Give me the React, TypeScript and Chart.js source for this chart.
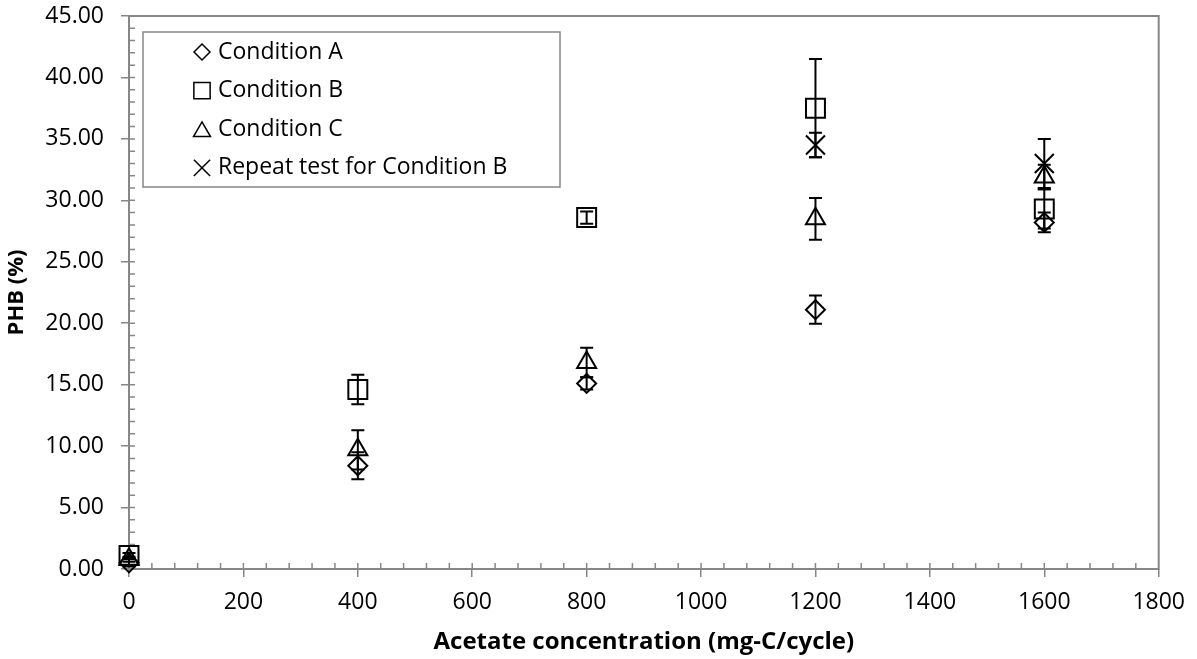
import React, { useEffect, useRef } from 'react';
import { Chart, registerables } from 'chart.js';
import { drawPoint } from 'chart.js/helpers';

Chart.register(...registerables);

// ---- Data ----
const xValues = [0, 400, 800, 1200, 1600];
const conditionA = [0.5, 8.4, 15.1, 21.1, 28.2];
const conditionAErr = [0.3, 1.1, 0.5, 1.15, 0.8];
const conditionB = [1.1, 14.6, 28.6, 37.5, 29.3];
const conditionBErr = [0.2, 1.2, 0.5, 4.0, 1.6];
const conditionC = [0.8, 9.7, 16.8, 28.5, 31.9];
const conditionCErr = [0.2, 1.6, 1.2, 1.7, 1.0];
const repeatX = [1200, 1600];
const repeatB = [34.5, 33.0];
const repeatBErr = [1.0, 2.0];
const seriesLabels = ['Condition A', 'Condition B', 'Condition C', 'Repeat test for Condition B'];

const xAxis = { min: 0, max: 1800, step: 200, minorStep: 40 };
const yAxis = { min: 0, max: 45, step: 5, minorStep: 1 };
const xTitle = 'Acetate concentration (mg-C/cycle)';
const yTitle = 'PHB (%)';

const AXIS_COLOR = '#878787';
const FONT = "'Open Sans', sans-serif";

const toPoints = (xs: number[], ys: number[]) => xs.map((x, i) => ({ x, y: ys[i] }));

const frameAndTicks = {
  id: 'frameAndTicks',
  beforeDatasetsDraw(chart: any) {
    const { ctx, chartArea: a, scales } = chart;
    const xs = scales.x;
    const ys = scales.y;
    ctx.save();
    ctx.strokeStyle = AXIS_COLOR;
    ctx.lineWidth = 1.5;
    ctx.beginPath();
    for (let v = xAxis.min + xAxis.minorStep; v < xAxis.max; v += xAxis.minorStep) {
      const px = xs.getPixelForValue(v);
      ctx.moveTo(px, a.bottom);
      ctx.lineTo(px, a.bottom - 6);
    }
    for (let v = yAxis.min + yAxis.minorStep; v < yAxis.max; v += yAxis.minorStep) {
      const py = ys.getPixelForValue(v);
      ctx.moveTo(a.left, py);
      ctx.lineTo(a.left + 6, py);
    }
    ctx.stroke();
    ctx.lineWidth = 2;
    ctx.strokeRect(a.left, a.top, a.right - a.left, a.bottom - a.top);
    ctx.restore();
  },
};

const errorBars = {
  id: 'errorBars',
  afterDatasetsDraw(chart: any) {
    const { ctx, scales } = chart;
    const xs = scales.x;
    const ys = scales.y;
    ctx.save();
    ctx.strokeStyle = '#000';
    ctx.lineWidth = 2;
    chart.data.datasets.forEach((ds: any) => {
      const errs: number[] = ds.errors;
      if (!errs) return;
      ds.data.forEach((pt: any, j: number) => {
        const px = xs.getPixelForValue(pt.x);
        const top = ys.getPixelForValue(pt.y + errs[j]);
        const bot = ys.getPixelForValue(pt.y - errs[j]);
        const cap = 6.5;
        ctx.beginPath();
        ctx.moveTo(px, top);
        ctx.lineTo(px, bot);
        ctx.moveTo(px - cap, top);
        ctx.lineTo(px + cap, top);
        ctx.moveTo(px - cap, bot);
        ctx.lineTo(px + cap, bot);
        ctx.stroke();
      });
    });
    ctx.restore();
  },
};

const legendBox = {
  id: 'legendBox',
  afterDraw(chart: any) {
    const { ctx } = chart;
    const box = { left: 143, top: 32, right: 560, bottom: 187 };
    ctx.save();
    ctx.fillStyle = '#fff';
    ctx.fillRect(box.left, box.top, box.right - box.left, box.bottom - box.top);
    ctx.strokeStyle = AXIS_COLOR;
    ctx.lineWidth = 1.5;
    ctx.strokeRect(box.left, box.top, box.right - box.left, box.bottom - box.top);
    const radii: Record<string, number> = { rectRot: 8, rect: 11.5, triangle: 9.8, crossRot: 11.5 };
    chart.data.datasets.forEach((ds: any, i: number) => {
      const cy = 52 + i * 38.6;
      ctx.fillStyle = 'rgba(0,0,0,0)';
      ctx.strokeStyle = '#000';
      ctx.lineWidth = 1.5;
      const style = ds.pointStyle;
      const r = radii[style] || 8;
      const yOff = style === 'triangle' ? 2.5 : 0;
      drawPoint(ctx, { pointStyle: style, rotation: 0, radius: r, borderWidth: 1.5 } as any, 202, cy + yOff);
      ctx.fillStyle = '#000';
      ctx.font = `23px ${FONT}`;
      ctx.textBaseline = 'middle';
      ctx.textAlign = 'left';
      ctx.fillText(ds.label, 218, cy);
    });
    ctx.restore();
  },
};

export default function App() {
  const canvasRef = useRef<HTMLCanvasElement | null>(null);

  useEffect(() => {
    if (!canvasRef.current) return;
    document.body.style.margin = '0';
    Chart.defaults.font.family = FONT;
    const common = {
      showLine: false,
      clip: false,
      borderColor: '#000',
      backgroundColor: 'rgba(0,0,0,0)',
      pointBorderColor: '#000',
      pointBackgroundColor: 'rgba(0,0,0,0)',
      pointBorderWidth: 2,
    };
    const chart = new Chart(canvasRef.current, {
      type: 'scatter',
      data: {
        datasets: [
          { ...common, label: seriesLabels[0], data: toPoints(xValues, conditionA), errors: conditionAErr, pointStyle: 'rectRot', pointRadius: 9.5 } as any,
          { ...common, label: seriesLabels[1], data: toPoints(xValues, conditionB), errors: conditionBErr, pointStyle: 'rect', pointRadius: 13.4 } as any,
          { ...common, label: seriesLabels[2], data: toPoints(xValues, conditionC), errors: conditionCErr, pointStyle: 'triangle', pointRadius: 11 } as any,
          { ...common, label: seriesLabels[3], data: toPoints(repeatX, repeatB), errors: repeatBErr, pointStyle: 'crossRot', pointRadius: 13.4 } as any,
        ],
      },
      options: {
        animation: false,
        responsive: false,
        events: [],
        layout: { autoPadding: false, padding: { top: 16, right: 37, left: 0, bottom: 0 } },
        plugins: { legend: { display: false }, tooltip: { enabled: false } },
        scales: {
          x: {
            type: 'linear',
            min: xAxis.min,
            max: xAxis.max,
            ticks: { stepSize: xAxis.step, color: '#000', font: { size: 23, family: FONT }, padding: 12, maxRotation: 0, callback: (v: any) => String(v) },
            grid: { drawOnChartArea: false, drawTicks: true, tickLength: 8, color: AXIS_COLOR, lineWidth: 1.5 },
            border: { display: false },
            title: { display: true, text: xTitle, color: '#000', font: { size: 24, weight: 'bold', family: FONT }, padding: { top: 0, bottom: 2 } },
            afterFit: (scale: any) => { scale.height = 90; },
          },
          y: {
            type: 'linear',
            min: yAxis.min,
            max: yAxis.max,
            ticks: { stepSize: yAxis.step, color: '#000', font: { size: 23, family: FONT }, padding: 17, callback: (v: any) => Number(v).toFixed(2) },
            grid: { drawOnChartArea: false, drawTicks: true, tickLength: 8, color: AXIS_COLOR, lineWidth: 1.5 },
            border: { display: false },
            title: { display: true, text: yTitle, color: '#000', font: { size: 22, weight: 'bold', family: FONT }, padding: { top: 4, bottom: 0 } },
            afterFit: (scale: any) => { scale.width = 129; scale.paddingTop = 0; scale.paddingBottom = 0; },
          },
        },
      } as any,
      plugins: [frameAndTicks, errorBars, legendBox],
    });
    return () => chart.destroy();
  }, []);

  return (
    <div style={{ position: 'absolute', left: 0, top: 0, width: 1197, height: 659, background: '#fff' }}>
      <canvas ref={canvasRef} width={1197} height={659} style={{ display: 'block' }} />
    </div>
  );
}
